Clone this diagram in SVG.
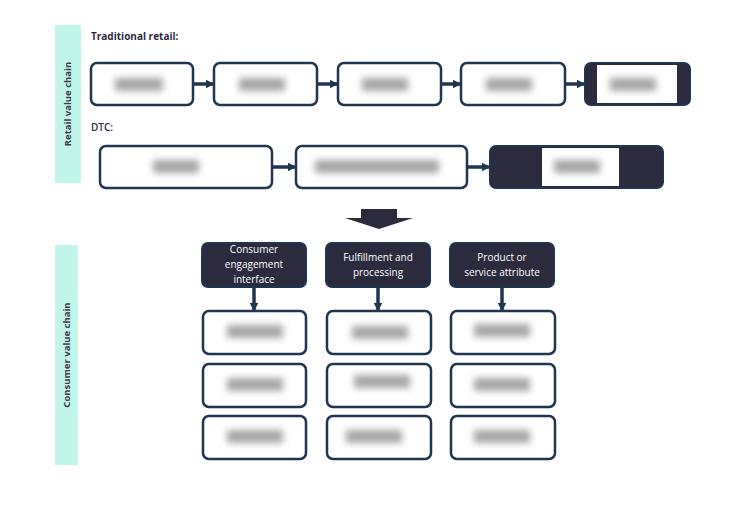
<svg xmlns="http://www.w3.org/2000/svg" width="733" height="514" viewBox="0 0 733 514">
<style>
.b{fill:#fff;stroke:#1f3550;stroke-width:2.5}
.d{fill:#2c2a3d;stroke:#1f3550;stroke-width:2}
.bl{fill:#a5a5a5;filter:url(#f)}
.ln{stroke:#1f3550;stroke-width:3.5;fill:none;marker-end:url(#a)}
.t{font-family:"Open Sans","Liberation Sans",sans-serif;font-size:10px;fill:#2c2a3d}
.h{font-family:"Open Sans","Liberation Sans",sans-serif;font-size:10px;fill:#fff;text-anchor:middle}
.v{font-family:"Open Sans","Liberation Sans",sans-serif;font-size:9.5px;font-weight:bold;fill:#3a3a4a;text-anchor:middle}
</style>
<defs>
<filter id="f" x="-30%" y="-80%" width="160%" height="260%"><feGaussianBlur stdDeviation="3.5"/></filter>
<marker id="a" viewBox="0 0 6 6" refX="5" refY="3" markerWidth="2.5" markerHeight="2.5" orient="auto"><path d="M0,0L6,3L0,6z" fill="#1f3550"/></marker>
</defs>
<rect width="733" height="514" fill="#fff"/>
<g id="band1"><rect x="55" y="25" width="26" height="158" fill="#c2f5ea"/><text class="v" transform="translate(71,104) rotate(-90)">Retail value chain</text></g>
<g id="band2"><rect x="55" y="245" width="23" height="220" fill="#c2f5ea"/><text class="v" transform="translate(70,355) rotate(-90)">Consumer value chain</text></g>
<text class="t" x="91" y="40" font-weight="bold">Traditional retail:</text>
<text class="t" x="91" y="131" font-weight="600">DTC:</text>
<g id="connectors">
<path class="ln" d="M193,84H213"/><path class="ln" d="M317,84H337"/><path class="ln" d="M441,84H460"/><path class="ln" d="M565,84H584"/>
<path class="ln" d="M272,167H295"/><path class="ln" d="M467,167H489"/>
<path class="ln" d="M254,288V310"/><path class="ln" d="M378,288V310"/><path class="ln" d="M502,288V310"/>
<path d="M361,209H397V218H413L379,229L345,218H361z" fill="#2c2a3d"/>
</g>
<g id="r1"><rect class="b" x="91" y="63" width="102" height="42" rx="6"/><rect class="bl" x="115" y="78" width="48" height="13"/></g>
<g id="r2"><rect class="b" x="214" y="63" width="103" height="42" rx="6"/><rect class="bl" x="239" y="78" width="46" height="13"/></g>
<g id="r3"><rect class="b" x="338" y="63" width="103" height="42" rx="6"/><rect class="bl" x="362" y="78" width="46" height="13"/></g>
<g id="r4"><rect class="b" x="461" y="63" width="104" height="42" rx="6"/><rect class="bl" x="486" y="78" width="46" height="13"/></g>
<g id="r5"><rect class="d" x="585" y="63" width="105" height="42" rx="6"/><rect x="597" y="65" width="80" height="38" fill="#fff"/><rect class="bl" x="610" y="78" width="46" height="13"/></g>
<g id="d1"><rect class="b" x="100" y="146" width="172" height="42" rx="6"/><rect class="bl" x="153" y="160" width="46" height="13"/></g>
<g id="d2"><rect class="b" x="296" y="146" width="171" height="42" rx="6"/><rect class="bl" x="315" y="160" width="124" height="13"/></g>
<g id="d3"><rect class="d" x="490" y="146" width="173" height="42" rx="6"/><rect x="542" y="148" width="77" height="38" fill="#fff"/><rect class="bl" x="554" y="160" width="46" height="13"/></g>
<g id="h1"><rect class="d" x="202" y="243" width="104" height="44" rx="6"/><text class="h" x="254" y="253">Consumer</text><text class="h" x="254" y="268">engagement</text><text class="h" x="254" y="283">interface</text></g>
<g id="h2"><rect class="d" x="326" y="243" width="104" height="44" rx="6"/><text class="h" x="378" y="261">Fulfillment and</text><text class="h" x="378" y="276">processing</text></g>
<g id="h3"><rect class="d" x="450" y="243" width="104" height="44" rx="6"/><text class="h" x="502" y="261">Product or</text><text class="h" x="502" y="276">service attribute</text></g>
<g id="c11"><rect class="b" x="203" y="311" width="103" height="43" rx="6"/><rect class="bl" x="227" y="325" width="56" height="13"/></g>
<g id="c12"><rect class="b" x="203" y="364" width="103" height="43" rx="6"/><rect class="bl" x="227" y="378" width="56" height="13"/></g>
<g id="c13"><rect class="b" x="203" y="416" width="103" height="43" rx="6"/><rect class="bl" x="227" y="430" width="56" height="13"/></g>
<g id="c21"><rect class="b" x="327" y="311" width="104" height="43" rx="6"/><rect class="bl" x="352" y="326" width="56" height="13"/></g>
<g id="c22"><rect class="b" x="327" y="364" width="104" height="43" rx="6"/><rect class="bl" x="354" y="375" width="56" height="13"/></g>
<g id="c23"><rect class="b" x="327" y="416" width="104" height="43" rx="6"/><rect class="bl" x="346" y="430" width="56" height="13"/></g>
<g id="c31"><rect class="b" x="451" y="311" width="104" height="43" rx="6"/><rect class="bl" x="474" y="324" width="56" height="13"/></g>
<g id="c32"><rect class="b" x="451" y="364" width="104" height="43" rx="6"/><rect class="bl" x="474" y="378" width="56" height="13"/></g>
<g id="c33"><rect class="b" x="451" y="416" width="104" height="43" rx="6"/><rect class="bl" x="474" y="430" width="56" height="13"/></g>
</svg>
